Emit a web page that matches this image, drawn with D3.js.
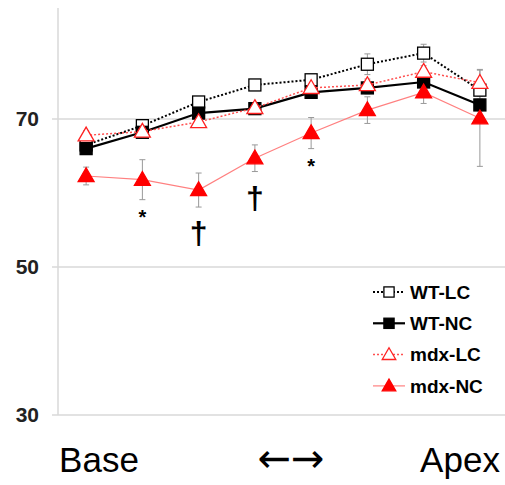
<!DOCTYPE html>
<html><head><meta charset="utf-8">
<script src="https://cdn.jsdelivr.net/npm/d3@7"></script>
<style>body{margin:0;background:#fff}svg{display:block}</style>
</head><body><svg id="c" width="505" height="485"></svg>
<script>
const positions = ["1","2","3","4","5","6","7","8"];
const yTicks = [30, 50, 70];
const xLabels = ["Base", "\u2190\u2192", "Apex"];
const wtLC = [66.5, 69.1, 72.3, 74.6, 75.3, 77.4, 78.9, 73.9];
const wtLCErr = [0.6, 0.5, 0.6, 0.5, 0.6, 1.4, 1.2, 1.5];
const wtNC = [66.0, 68.2, 70.8, 71.4, 73.6, 74.2, 75.0, 71.9];
const wtNCErr = [0.5, 0.5, 0.5, 0.5, 0.8, 0.8, 0.8, 0.8];
const mdxLC = [67.8, 68.3, 69.6, 71.5, 74.2, 74.6, 76.4, 74.9];
const mdxLCErr = [0.6, 0.6, 0.6, 0.6, 0.6, 0.8, 0.8, 1.8];
const mdxNC = [62.3, 61.8, 60.4, 64.7, 68.1, 71.2, 73.6, 70.1];
const mdxNCErr = [1.2, 2.7, 2.3, 1.8, 2.1, 1.8, 1.5, 6.5];
const annotIdx = [1, 2, 3, 4];
const annotSym = ["*", "\u2020", "\u2020", "*"];

const svg = d3.select("#c");
const x = d3.scalePoint().domain(positions).range([58, 508]).padding(0.5);
const y = d3.scaleLinear().domain([30, 85]).range([415, 8]);

// gridlines
svg.append("g").selectAll("line").data(yTicks).join("line")
  .attr("x1", 52).attr("x2", 505).attr("y1", d => y(d)).attr("y2", d => y(d))
  .attr("stroke", "#d9d9d9").attr("stroke-width", 1.5);
svg.append("line").attr("x1", 58).attr("x2", 58).attr("y1", y(85)).attr("y2", y(30))
  .attr("stroke", "#d9d9d9").attr("stroke-width", 1.5);

// y tick labels
svg.append("g").selectAll("text").data(yTicks).join("text")
  .attr("x", 39).attr("y", d => y(d)).attr("dy", "0.35em")
  .attr("text-anchor", "end").attr("font-family", "Liberation Sans, Arial, sans-serif")
  .attr("font-weight", "bold").attr("font-size", 21).attr("fill", "#222")
  .text(d => d);

// x labels
const xl = [ {t: xLabels[0], x: 99, f: "Liberation Sans, Arial, sans-serif", s: 35},
             {t: xLabels[1], x: 291, f: "DejaVu Sans, sans-serif", s: 40},
             {t: xLabels[2], x: 460, f: "Liberation Sans, Arial, sans-serif", s: 35} ];
svg.append("g").selectAll("text").data(xl).join("text")
  .attr("x", d => d.x).attr("y", 472).attr("text-anchor", "middle")
  .attr("font-family", d => d.f).attr("font-size", d => d.s)
  .attr("fill", "#000").text(d => d.t);

const series = [
  {name: "WT-LC", v: wtLC, e: wtLCErr, stroke: "#000", sw: 2, dash: "2,2", shape: "square", fill: "#fff", mstroke: "#000"},
  {name: "WT-NC", v: wtNC, e: wtNCErr, stroke: "#000", sw: 2.2, dash: null, shape: "square", fill: "#000", mstroke: "#000"},
  {name: "mdx-LC", v: mdxLC, e: mdxLCErr, stroke: "#ff5050", sw: 1.5, dash: "2,2", shape: "triangle", fill: "#fff", mstroke: "#ff2020"},
  {name: "mdx-NC", v: mdxNC, e: mdxNCErr, stroke: "#ff8080", sw: 1.2, dash: null, shape: "triangle", fill: "#ff0000", mstroke: "#ff0000"}
];

// error bars
series.forEach(s => {
  const g = svg.append("g").attr("stroke", "#999").attr("stroke-width", 1);
  s.v.forEach((v, i) => {
    const cx = x(positions[i]);
    g.append("line").attr("x1", cx).attr("x2", cx).attr("y1", y(v + s.e[i])).attr("y2", y(v - s.e[i]));
    [v + s.e[i], v - s.e[i]].forEach(ev => {
      g.append("line").attr("x1", cx - 3).attr("x2", cx + 3).attr("y1", y(ev)).attr("y2", y(ev));
    });
  });
});

const line = d3.line().x((d, i) => x(positions[i])).y(d => y(d));
function marker(g, shape, cx, cy, fill, stroke, sc) {
  sc = sc || 1;
  if (shape === "square") {
    const h = 6 * sc;
    g.append("rect").attr("x", cx - h).attr("y", cy - h).attr("width", 2 * h).attr("height", 2 * h)
      .attr("fill", fill).attr("stroke", stroke).attr("stroke-width", 1.3);
  } else {
    g.append("path").attr("d", d3.symbol().type(d3.symbolTriangle).size(110 * sc * sc)())
      .attr("transform", `translate(${cx},${cy + 1})`)
      .attr("fill", fill).attr("stroke", stroke).attr("stroke-width", 1.3);
  }
}

[0, 1, 2, 3].forEach(k => {
  const s = series[k];
  const g = svg.append("g");
  g.append("path").datum(s.v).attr("d", line).attr("fill", "none")
    .attr("stroke", s.stroke).attr("stroke-width", s.sw).attr("stroke-dasharray", s.dash);
  s.v.forEach((v, i) => marker(g, s.shape, x(positions[i]), y(v), s.fill, s.mstroke));
});

// significance annotations
svg.append("g").selectAll("text").data(annotIdx).join("text")
  .attr("x", d => x(positions[d]))
  .attr("y", (d, j) => annotSym[j] === "*" ? y(mdxNC[d] - mdxNCErr[d]) + 24 : y(mdxNC[d] - mdxNCErr[d]) + 37)
  .attr("text-anchor", "middle").attr("font-family", "Liberation Sans, Arial, sans-serif")
  .attr("font-weight", "bold").attr("font-size", (d, j) => annotSym[j] === "*" ? 20 : 32)
  .attr("fill", "#000").text((d, j) => annotSym[j]);

// legend
const lg = svg.append("g");
series.forEach((s, i) => {
  const ly = 292 + i * 31.3;
  lg.append("line").attr("x1", 373).attr("x2", 405).attr("y1", ly).attr("y2", ly)
    .attr("stroke", s.stroke).attr("stroke-width", s.sw).attr("stroke-dasharray", s.dash);
  marker(lg, s.shape, 389, ly, s.fill, s.mstroke, 0.85);
  lg.append("text").attr("x", 410).attr("y", ly).attr("dy", "0.35em")
    .attr("font-family", "Liberation Sans, Arial, sans-serif").attr("font-weight", "bold")
    .attr("font-size", 19).attr("fill", "#000").text(s.name);
});
</script></body></html>
